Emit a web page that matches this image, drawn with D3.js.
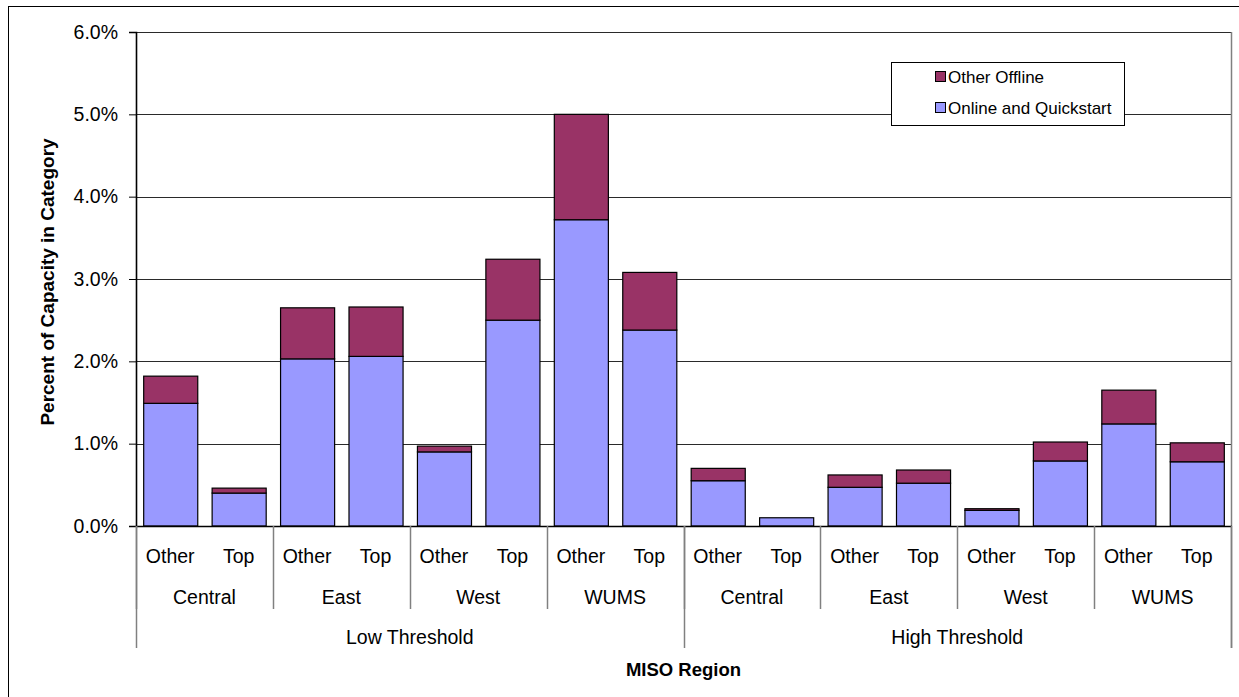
<!DOCTYPE html>
<html>
<head>
<meta charset="utf-8">
<script src="https://cdn.jsdelivr.net/npm/d3@7"></script>
<style>
  html, body { margin: 0; padding: 0; background: #fff; }
  svg { display: block; font-family: "Liberation Sans", Arial, sans-serif; }
</style>
</head>
<body>
<svg id="chart" width="1239" height="697"></svg>
<script>
// Category hierarchy (outer to inner)
const thresholds = ["Low Threshold", "High Threshold"];
const regions = ["Central", "East", "West", "WUMS"];
const unitTypes = ["Other", "Top"];

// Percent of capacity, one value per bar in category order
const onlineQuickstart = [1.49, 0.40, 2.03, 2.06, 0.90, 2.50, 3.72, 2.38,
                          0.55, 0.10, 0.47, 0.52, 0.19, 0.79, 1.24, 0.78];
const otherOffline     = [0.33, 0.06, 0.62, 0.60, 0.07, 0.74, 1.28, 0.70,
                          0.15, 0.00, 0.15, 0.16, 0.02, 0.23, 0.41, 0.23];

const yTicks = [0, 1, 2, 3, 4, 5, 6];
const seriesNames = ["Online and Quickstart", "Other Offline"];
const seriesColors = ["#9999FF", "#993366"];

// Build flat bar records
const bars = [];
thresholds.forEach((t, ti) => regions.forEach((r, ri) => unitTypes.forEach((u, ui) => {
  const i = ti * regions.length * unitTypes.length + ri * unitTypes.length + ui;
  bars.push({ key: i, threshold: t, region: r, type: u,
              online: onlineQuickstart[i], offline: otherOffline[i] });
})));

const svg = d3.select("#chart");
const plot = { left: 136, right: 1231, top: 32, bottom: 526 };

const x = d3.scaleBand()
  .domain(bars.map(d => d.key))
  .range([plot.left, plot.right])
  .paddingInner(0.21)
  .paddingOuter(0.105);
const step = x.step();

const y = d3.scaleLinear().domain([0, 6]).range([plot.bottom, plot.top]);

// Chart border
svg.append("rect")
  .attr("x", 8.5).attr("y", 6.5)
  .attr("width", 1260).attr("height", 720)
  .attr("fill", "none").attr("stroke", "#000").attr("stroke-width", 1);

// Horizontal gridlines
svg.append("g")
  .selectAll("line")
  .data(yTicks.filter(v => v > 0))
  .join("line")
  .attr("x1", plot.left).attr("x2", plot.right)
  .attr("y1", d => Math.round(y(d)) + 0.5).attr("y2", d => Math.round(y(d)) + 0.5)
  .attr("stroke", "#2a2a2a").attr("stroke-width", 1);

// Right edge of plot / category frame
svg.append("line")
  .attr("x1", plot.right + 0.5).attr("x2", plot.right + 0.5)
  .attr("y1", plot.top).attr("y2", 648)
  .attr("stroke", "#808080").attr("stroke-width", 1.5);

// Stacked bars
const stack = d3.stack().keys(["online", "offline"]);
const layers = stack(bars);

svg.append("g")
  .selectAll("g")
  .data(layers)
  .join("g")
  .attr("fill", (d, i) => seriesColors[i])
  .selectAll("rect")
  .data(d => d.filter(s => s[1] - s[0] > 0))
  .join("rect")
  .attr("x", d => x(d.data.key) + 0.5)
  .attr("y", d => y(d[1]))
  .attr("width", x.bandwidth())
  .attr("height", d => y(d[0]) - y(d[1]))
  .attr("stroke", "#000").attr("stroke-width", 1.2);

// Y axis
const yAxis = svg.append("g")
  .attr("transform", `translate(${plot.left},0)`)
  .call(d3.axisLeft(y).tickValues(yTicks).tickSize(7).tickPadding(11)
        .tickFormat(d => d3.format(".1f")(d) + "%"));
yAxis.select(".domain").attr("stroke", "#000").attr("stroke-width", 1.6);
yAxis.selectAll(".tick line").attr("stroke", "#000");
yAxis.selectAll(".tick text")
  .attr("font-size", 19.5).attr("fill", "#000")
  .style("font-family", "Liberation Sans, Arial, sans-serif");

// X axis baseline
svg.append("line")
  .attr("x1", plot.left).attr("x2", plot.right + 1)
  .attr("y1", plot.bottom + 0.5).attr("y2", plot.bottom + 0.5)
  .attr("stroke", "#000").attr("stroke-width", 1.5);

// Multi-level category axis
const catG = svg.append("g").attr("font-size", 19.5).attr("fill", "#000");
catG.selectAll("text.type")
  .data(bars)
  .join("text")
  .attr("class", "type")
  .attr("x", d => x(d.key) + x.bandwidth() / 2)
  .attr("y", 556)
  .attr("dy", "0.35em")
  .attr("text-anchor", "middle")
  .text(d => d.type);

const slotLeft = i => plot.left + i * step;

const regionGroups = [];
thresholds.forEach((t, ti) => regions.forEach((r, ri) => {
  const first = ti * regions.length * unitTypes.length + ri * unitTypes.length;
  regionGroups.push({ name: r, first, last: first + unitTypes.length - 1 });
}));
catG.selectAll("text.region")
  .data(regionGroups)
  .join("text")
  .attr("class", "region")
  .attr("x", d => (slotLeft(d.first) + slotLeft(d.last + 1)) / 2)
  .attr("y", 597)
  .attr("dy", "0.35em")
  .attr("text-anchor", "middle")
  .text(d => d.name);

const perThreshold = regions.length * unitTypes.length;
const thresholdGroups = thresholds.map((t, ti) => ({ name: t, first: ti * perThreshold, last: ti * perThreshold + perThreshold - 1 }));
catG.selectAll("text.threshold")
  .data(thresholdGroups)
  .join("text")
  .attr("class", "threshold")
  .attr("x", d => (slotLeft(d.first) + slotLeft(d.last + 1)) / 2)
  .attr("y", 637)
  .attr("dy", "0.35em")
  .attr("text-anchor", "middle")
  .text(d => d.name);

// Divider lines between category groups
const dividers = [];
regionGroups.forEach(g => dividers.push({ pos: slotLeft(g.first), outer: false }));
thresholdGroups.forEach(g => dividers.push({ pos: slotLeft(g.first), outer: true }));
dividers.push({ pos: plot.right, outer: true });
svg.append("g")
  .selectAll("line")
  .data(dividers)
  .join("line")
  .attr("x1", d => Math.round(d.pos) + 0.5).attr("x2", d => Math.round(d.pos) + 0.5)
  .attr("y1", plot.bottom).attr("y2", d => d.outer ? 648 : 609)
  .attr("stroke", "#808080").attr("stroke-width", 1.5);

// Axis titles
svg.append("text")
  .attr("x", (plot.left + plot.right) / 2)
  .attr("y", 670)
  .attr("dy", "0.35em")
  .attr("text-anchor", "middle")
  .attr("font-size", 18.5)
  .attr("font-weight", "bold")
  .text("MISO Region");

svg.append("text")
  .attr("transform", "translate(47,282) rotate(-90)")
  .attr("dy", "0.35em")
  .attr("text-anchor", "middle")
  .attr("font-size", 19)
  .attr("font-weight", "bold")
  .text("Percent of Capacity in Category");

// Legend
const legend = svg.append("g");
legend.append("rect")
  .attr("x", 891.5).attr("y", 62.5)
  .attr("width", 233).attr("height", 63)
  .attr("fill", "#fff").attr("stroke", "#000").attr("stroke-width", 1);
const legendItems = [
  { name: seriesNames[1], color: seriesColors[1], y: 77 },
  { name: seriesNames[0], color: seriesColors[0], y: 108 }
];
const li = legend.selectAll("g.item").data(legendItems).join("g").attr("class", "item");
li.append("rect")
  .attr("x", 935.5).attr("y", d => d.y - 5.5)
  .attr("width", 10).attr("height", 10)
  .attr("fill", d => d.color).attr("stroke", "#000").attr("stroke-width", 1);
li.append("text")
  .attr("x", 948).attr("y", d => d.y)
  .attr("dy", "0.35em")
  .attr("font-size", 17)
  .text(d => d.name);
</script>
</body>
</html>
